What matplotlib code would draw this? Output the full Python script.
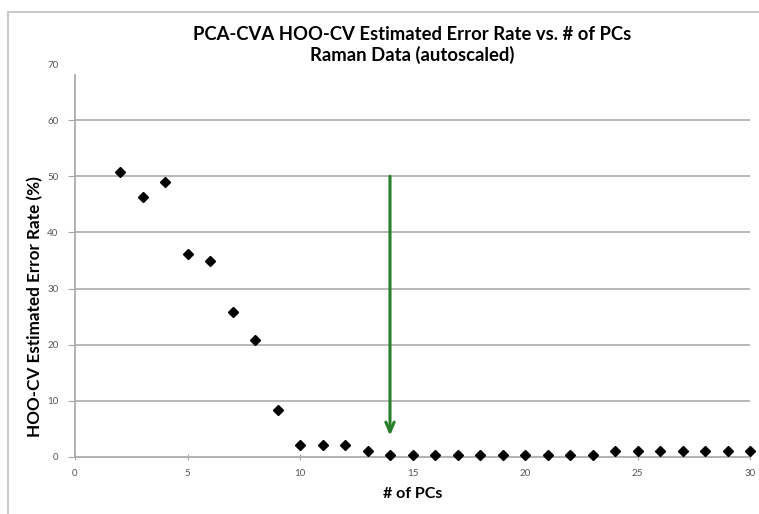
import matplotlib
matplotlib.use("Agg")
import matplotlib.pyplot as plt
from matplotlib.patches import Rectangle

# Estimated HOO-CV error rate (%) for each number of principal components
n_pcs = [2, 3, 4, 5, 6, 7, 8, 9, 10, 11, 12, 13, 14, 15, 16, 17, 18, 19, 20,
         21, 22, 23, 24, 25, 26, 27, 28, 29, 30]
error_rate = [50.8, 46.3, 48.9, 36.2, 35.0, 25.8, 20.8, 8.3, 2.2, 2.2, 2.2,
              1.1, 0.4, 0.4, 0.4, 0.4, 0.4, 0.4, 0.4, 0.4, 0.4, 0.4, 1.1,
              1.1, 1.1, 1.1, 1.1, 1.1, 1.1]

x_ticks = [0, 5, 10, 15, 20, 25, 30]
y_ticks = [0, 10, 20, 30, 40, 50, 60, 70]

# selected number of PCs and the arrow span pointing at it
chosen_pc = 14
arrow_top = 50.5
arrow_tip = 3.3

plt.rcParams['font.family'] = ['Lato', 'DejaVu Sans']

fig = plt.figure(figsize=(7.59, 5.14), dpi=100)
ax = fig.add_axes([75 / 759, 1 - 457 / 514, 675 / 759, 393 / 514])

# chart frame (open on the right and bottom edges of the image)
fig.patches.append(Rectangle((8 / 759, -0.02), 1.05, 1 - 12 / 514 + 0.02,
                             transform=fig.transFigure, fill=False,
                             edgecolor='#c8c8c8', linewidth=1.4))

grid_c = '#a6a6a6'
ax.set_xlim(0, 30)
ax.set_ylim(0, 70)
ax.set_xticks(x_ticks)
ax.set_yticks(y_ticks)
for y in y_ticks[1:-1]:
    ax.axhline(y, color=grid_c, linewidth=1.1, zorder=1)

for side in ('top', 'right'):
    ax.spines[side].set_visible(False)
for side in ('left', 'bottom'):
    ax.spines[side].set_color(grid_c)
    ax.spines[side].set_linewidth(1.2)
ax.spines['left'].set_bounds(0, 68)

ax.tick_params(axis='x', direction='inout', length=5, color=grid_c,
               labelsize=7, labelcolor='#555555', pad=6)
ax.tick_params(axis='y', direction='out', length=5, color=grid_c,
               labelsize=7, labelcolor='#555555', pad=7)
ax.yaxis.get_ticklines()[-2].set_visible(False)

ax.plot(n_pcs, error_rate, linestyle='none', marker='D', markersize=4.8,
        color='black', zorder=3, clip_on=False)

ax.annotate('', xy=(chosen_pc, arrow_tip), xytext=(chosen_pc, arrow_top),
            arrowprops=dict(arrowstyle='->,head_length=0.7,head_width=0.3',
                            color='#2a7f2a', lw=2.2), zorder=4)

title_x = 412 / 759
fig.text(title_x, 1 - 40 / 514, 'PCA-CVA HOO-CV Estimated Error Rate vs. # of PCs',
         ha='center', va='baseline', fontsize=13.3, fontweight='bold')
fig.text(title_x, 1 - 61 / 514, 'Raman Data (autoscaled)',
         ha='center', va='baseline', fontsize=13.3, fontweight='bold')

ax.set_xlabel('# of PCs', fontsize=11.5, fontweight='bold')
ax.xaxis.set_label_coords(0.5, -0.077)
ax.set_ylabel('HOO-CV Estimated Error Rate (%)', fontsize=12.3,
              fontweight='bold', va='center')
ax.yaxis.set_label_coords(-40 / 675, 0.384)

fig.savefig('out.png', dpi=100, facecolor='white')
